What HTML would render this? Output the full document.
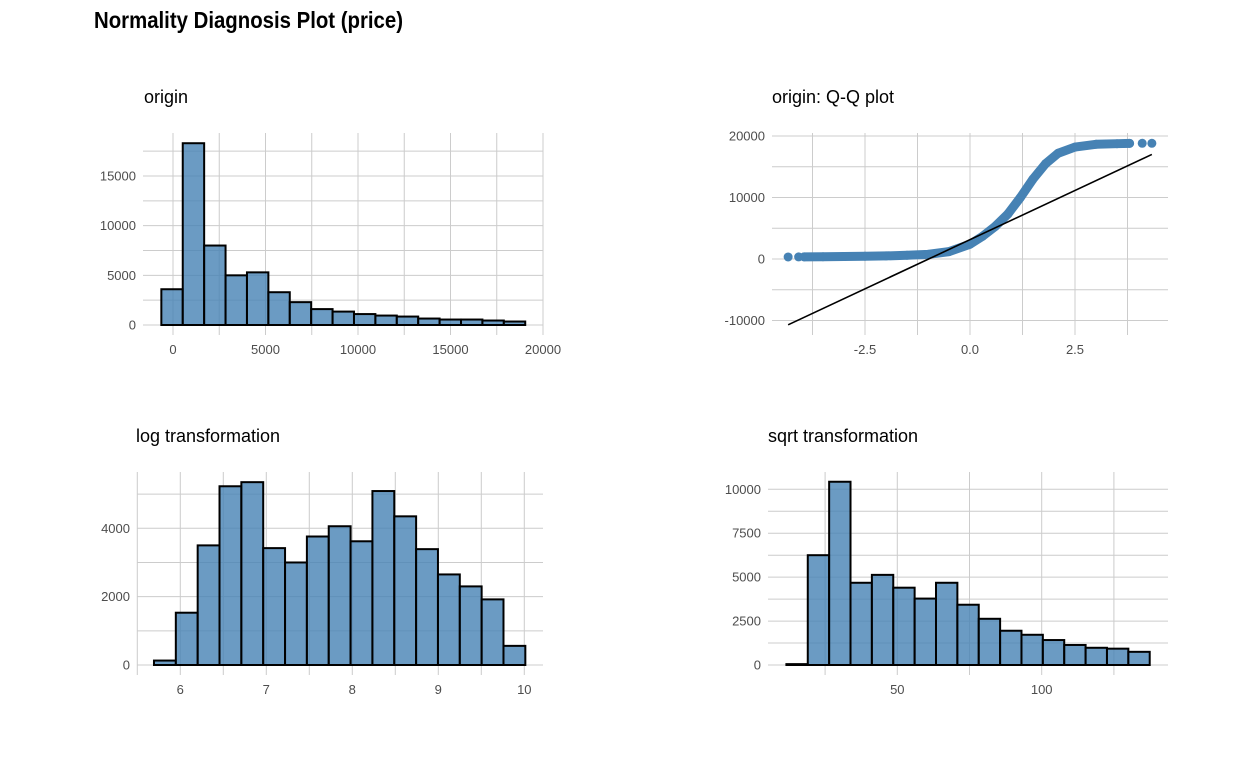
<!DOCTYPE html>
<html><head><meta charset="utf-8"><style>
html,body{margin:0;padding:0;background:#fff;width:1248px;height:768px;overflow:hidden}
svg text{font-family:"Liberation Sans Narrow","Liberation Sans",sans-serif}
.tick{fill:#4d4d4d;font-size:13px}
.pt{fill:#000;font-size:18px}
</style></head><body>
<svg id="chart" width="1248" height="768" xmlns="http://www.w3.org/2000/svg">
<text x="94" y="28" font-size="23" font-weight="bold" textLength="309" lengthAdjust="spacingAndGlyphs">Normality Diagnosis Plot (price)</text>
</svg>
<script>
// ---- data ----
const originCounts=[3600,18300,8000,5000,5300,3300,2300,1600,1350,1100,950,850,650,550,550,450,350];
const originStart=-630, originBinWidth=1157;
const originXTicks=[0,5000,10000,15000,20000];
const originYTicks=[0,5000,10000,15000];

const qqTheoretical=[-4.33,-4.08,-3.95,-3.5,-3.0,-2.5,-2.0,-1.5,-1.0,-0.5,0,0.3,0.6,0.9,1.2,1.5,1.8,2.1,2.5,3.0,3.5,3.8,4.1,4.33];
const qqSample=[330,340,350,370,400,450,500,600,750,1200,2400,3700,5300,7300,10000,13000,15500,17200,18200,18650,18750,18800,18820,18820];
const qqLineStart=[-4.33,-10700], qqLineEnd=[4.33,17000];
const qqXTicks=[-2.5,0,2.5];
const qqXTickLabels=["-2.5","0.0","2.5"];
const qqYTicks=[-10000,0,10000,20000];

const logCounts=[130,1530,3500,5230,5350,3420,3000,3760,4060,3620,5090,4350,3390,2650,2300,1920,560];
const logStart=5.694, logBinWidth=0.254;
const logXTicks=[6,7,8,9,10];
const logYTicks=[0,2000,4000];

const sqrtCounts=[50,6250,10430,4680,5130,4400,3780,4680,3430,2630,1950,1720,1420,1140,980,930,750];
const sqrtStart=11.6, sqrtBinWidth=7.4;
const sqrtXTicks=[50,100];
const sqrtYTicks=[0,2500,5000,7500,10000];

// ---- helpers ----
const svg=document.getElementById('chart');
const NS='http://www.w3.org/2000/svg';
function mk(tag,attrs,parent){const e=document.createElementNS(NS,tag);for(const k in attrs)e.setAttribute(k,attrs[k]);(parent||svg).appendChild(e);return e;}
function lin(d0,d1,r0,r1){return v=>r0+(v-d0)*(r1-r0)/(d1-d0);}

function panel(name,title,titleX,box,xs,ys,xGrid,yGrid,xTicks,xLabels,yTicks){
  const g=mk('g',{});
  
  
  const t=mk('text',{x:titleX,y:box.y0-30,class:'pt'},g);
  
  
  t.textContent=title;
  const grid=mk('g',{stroke:'#cccccc','stroke-width':1},g);
  
  
  xGrid.forEach(v=>{const x=xs(v);mk('line',{x1:x,x2:x,y1:box.y0,y2:box.y1},grid);});
  yGrid.forEach(v=>{const y=ys(v);mk('line',{x1:box.x0,x2:box.x1,y1:y,y2:y},grid);});
  xTicks.forEach((v,i)=>{const tx=mk('text',{x:xs(v),y:box.y1+19,'text-anchor':'middle',class:'tick'},g);
    
    
    tx.textContent=xLabels[i];});
  yTicks.forEach(v=>{const tx=mk('text',{x:box.x0-7,y:ys(v)+4.5,'text-anchor':'end',class:'tick'},g);
    
    
    tx.textContent=String(v);});
  return g;
}
function bars(g,counts,start,w,xs,ys,name){
  const bg=mk('g',{fill:'#4682b4','fill-opacity':0.8,stroke:'#000','stroke-width':2},g);
  
  
  counts.forEach((c,i)=>{
    const x0=xs(start+i*w),x1=xs(start+(i+1)*w),y=ys(c),y0=ys(0);
    const r=mk('rect',{x:x0,y:y,width:x1-x0,height:y0-y},bg);
    
    
  });
}
function range(a,b,s){const o=[];for(let v=a;v<=b+1e-9;v+=s)o.push(+v.toFixed(6));return o;}

// origin
(function(){
  const box={x0:143,x1:543,y0:133,y1:335};
  const xs=lin(0,20000,173,543), ys=lin(0,15000,325,176);
  const g=panel('origin-histogram','origin',144,box,xs,ys,range(0,20000,2500),range(0,17500,2500),originXTicks,originXTicks.map(String),originYTicks);
  bars(g,originCounts,originStart,originBinWidth,xs,ys,'origin');
})();
// qq
(function(){
  const box={x0:772,x1:1168,y0:133,y1:335};
  const xs=lin(0,2.5,970,1075), ys=lin(0,20000,259,136);
  const g=panel('qq-plot','origin: Q-Q plot',772,box,xs,ys,range(-3.75,3.75,1.25),range(-10000,20000,5000),qqXTicks,qqXTickLabels,qqYTicks);
  const pg=mk('g',{fill:'#4682b4'},g);
  
  
  const pts=qqTheoretical.map((q,i)=>[xs(q),ys(qqSample[i])]);
  const band=pts.slice(2,pts.length-2).map(p=>p.join(',')).join(' ');
  const pl=mk('polyline',{points:band,fill:'none',stroke:'#4682b4','stroke-width':9,'stroke-linejoin':'round','stroke-linecap':'round'},pg);
  
  
  pts.forEach(p=>{const c=mk('circle',{cx:p[0],cy:p[1],r:4.5},pg);
    
    });
  const ln=mk('line',{x1:xs(qqLineStart[0]),y1:ys(qqLineStart[1]),x2:xs(qqLineEnd[0]),y2:ys(qqLineEnd[1]),stroke:'#000','stroke-width':1.6},g);
  
  
})();
// log
(function(){
  const box={x0:137,x1:543,y0:472,y1:675};
  const xs=lin(6,10,180.3,524.3), ys=lin(0,4000,665,528.3);
  const g=panel('log-histogram','log transformation',136,box,xs,ys,range(5.5,10,0.5),range(0,5000,1000),logXTicks,logXTicks.map(String),logYTicks);
  bars(g,logCounts,logStart,logBinWidth,xs,ys,'log');
})();
// sqrt
(function(){
  const box={x0:768,x1:1168,y0:472,y1:675};
  const xs=lin(50,100,897.3,1041.7), ys=lin(0,10000,665,489.3);
  const g=panel('sqrt-histogram','sqrt transformation',768,box,xs,ys,range(25,125,25),range(0,10000,1250),sqrtXTicks,sqrtXTicks.map(String),sqrtYTicks);
  bars(g,sqrtCounts,sqrtStart,sqrtBinWidth,xs,ys,'sqrt');
})();
</script>
</body></html>
